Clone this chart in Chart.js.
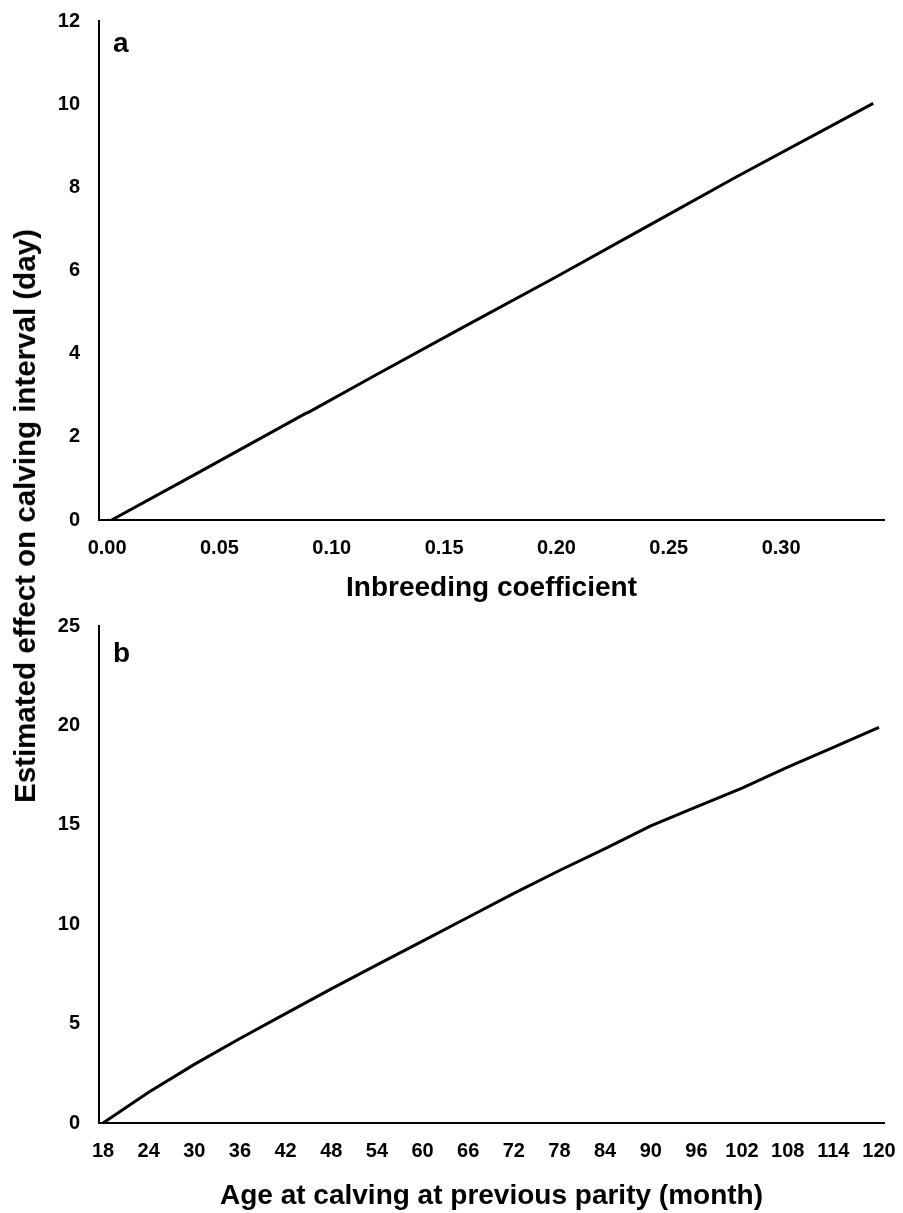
<!DOCTYPE html>
<html>
<head>
<meta charset="utf-8">
<script src="https://cdn.jsdelivr.net/npm/chart.js@4/dist/chart.umd.min.js"></script>
<style>
  body { margin: 0; background: #fff; }
  #wrap { position: relative; width: 903px; height: 1213px; }
  canvas { position: absolute; left: 0; }
  #chartA { top: 0; }
  #chartB { top: 605px; }
  #ytitle {
    position: absolute; left: 25px; top: 516px;
    transform: translate(-50%, -50%) rotate(-90deg);
    white-space: nowrap;
    font: bold 29.5px "Liberation Sans", Arial, sans-serif;
    color: #000;
  }
</style>
</head>
<body>
<div id="wrap">
  <canvas id="chartA" width="903" height="605"></canvas>
  <canvas id="chartB" width="903" height="608"></canvas>
  <div id="ytitle">Estimated effect on calving interval (day)</div>
</div>
<script>
// panel a: inbreeding coefficient
const inbreedX = [0.002, 0.04, 0.088, 0.09, 0.12, 0.16, 0.20, 0.24, 0.28, 0.341];
const inbreedY = [0, 1.12, 2.55, 2.6, 3.5, 4.68, 5.85, 7.05, 8.25, 10.02];
const inbreedTicks = [0, 0.05, 0.10, 0.15, 0.20, 0.25, 0.30];

// panel b: age at calving at previous parity
const ageX = [18, 24, 30, 36, 42, 48, 54, 60, 66, 72, 78, 84, 90, 96, 102, 108, 114, 120];
const ageY = [0, 1.55, 2.95, 4.25, 5.5, 6.75, 7.95, 9.15, 10.35, 11.55, 12.7, 13.8, 14.95, 15.9, 16.85, 17.9, 18.9, 19.9];
const ageTicks = [18, 24, 30, 36, 42, 48, 54, 60, 66, 72, 78, 84, 90, 96, 102, 108, 114, 120];

const FONT = '"Liberation Sans", Arial, sans-serif';

function toPoints(xs, ys) {
    return xs.map((x, i) => ({x: x, y: ys[i]}));
}

const panelLetter = {
    id: 'panelLetter',
    afterDraw(chart, args, opts) {
        const ctx = chart.ctx;
        ctx.save();
        ctx.font = 'bold 28px ' + FONT;
        ctx.fillStyle = '#000';
        ctx.textBaseline = 'alphabetic';
        ctx.fillText(opts.text, chart.chartArea.left + 14, chart.chartArea.top + opts.dy);
        ctx.restore();
    }
};

function makeChart(canvas, points, x, y, letter) {
    return new Chart(canvas, {
        type: 'line',
        data: {
            datasets: [{
                data: points,
                borderColor: '#000',
                borderWidth: 3,
                pointRadius: 0,
                tension: 0
            }]
        },
        options: {
            responsive: false,
            animation: false,
            layout: { padding: { top: 21, right: 19, left: 0, bottom: 0 } },
            plugins: {
                legend: { display: false },
                tooltip: { enabled: false },
                panelLetter: letter
            },
            scales: {
                x: {
                    type: 'linear',
                    min: x.min,
                    max: x.max,
                    afterBuildTicks: s => { s.ticks = x.ticks.map(v => ({value: v})); },
                    afterFit: s => {
                        s.height = x.height;
                        s.paddingLeft = 0;
                        s.paddingRight = 0;
                    },
                    grid: { display: false, drawTicks: false },
                    border: { display: true, color: '#000', width: 2 },
                    ticks: {
                        padding: 16,
                        color: '#000',
                        maxRotation: 0,
                        autoSkip: false,
                        font: { family: FONT, size: 20, weight: 'bold' },
                        callback: x.format
                    },
                    title: {
                        display: true,
                        text: x.title,
                        color: '#000',
                        padding: { top: 0, bottom: 0 },
                        font: { family: FONT, size: 28, weight: 'bold' }
                    }
                },
                y: {
                    min: 0,
                    max: y.max,
                    afterFit: s => {
                        s.width = 99;
                        s.paddingTop = 0;
                        s.paddingBottom = 0;
                    },
                    grid: { display: false, drawTicks: false },
                    border: { display: true, color: '#000', width: 2 },
                    ticks: {
                        stepSize: y.step,
                        padding: 19,
                        color: '#000',
                        font: { family: FONT, size: 20, weight: 'bold' }
                    }
                }
            }
        },
        plugins: [panelLetter]
    });
}

makeChart(document.getElementById('chartA'), toPoints(inbreedX, inbreedY),
    { min: -0.0036, max: 0.3458, ticks: inbreedTicks, height: 85,
      title: 'Inbreeding coefficient', format: v => Number(v).toFixed(2) },
    { max: 12, step: 2 },
    { text: 'a', dy: 31 });

makeChart(document.getElementById('chartB'), toPoints(ageX, ageY),
    { min: 17.47, max: 120.66, ticks: ageTicks, height: 90,
      title: 'Age at calving at previous parity (month)', format: v => v },
    { max: 25, step: 5 },
    { text: 'b', dy: 36 });
</script>
</body>
</html>
